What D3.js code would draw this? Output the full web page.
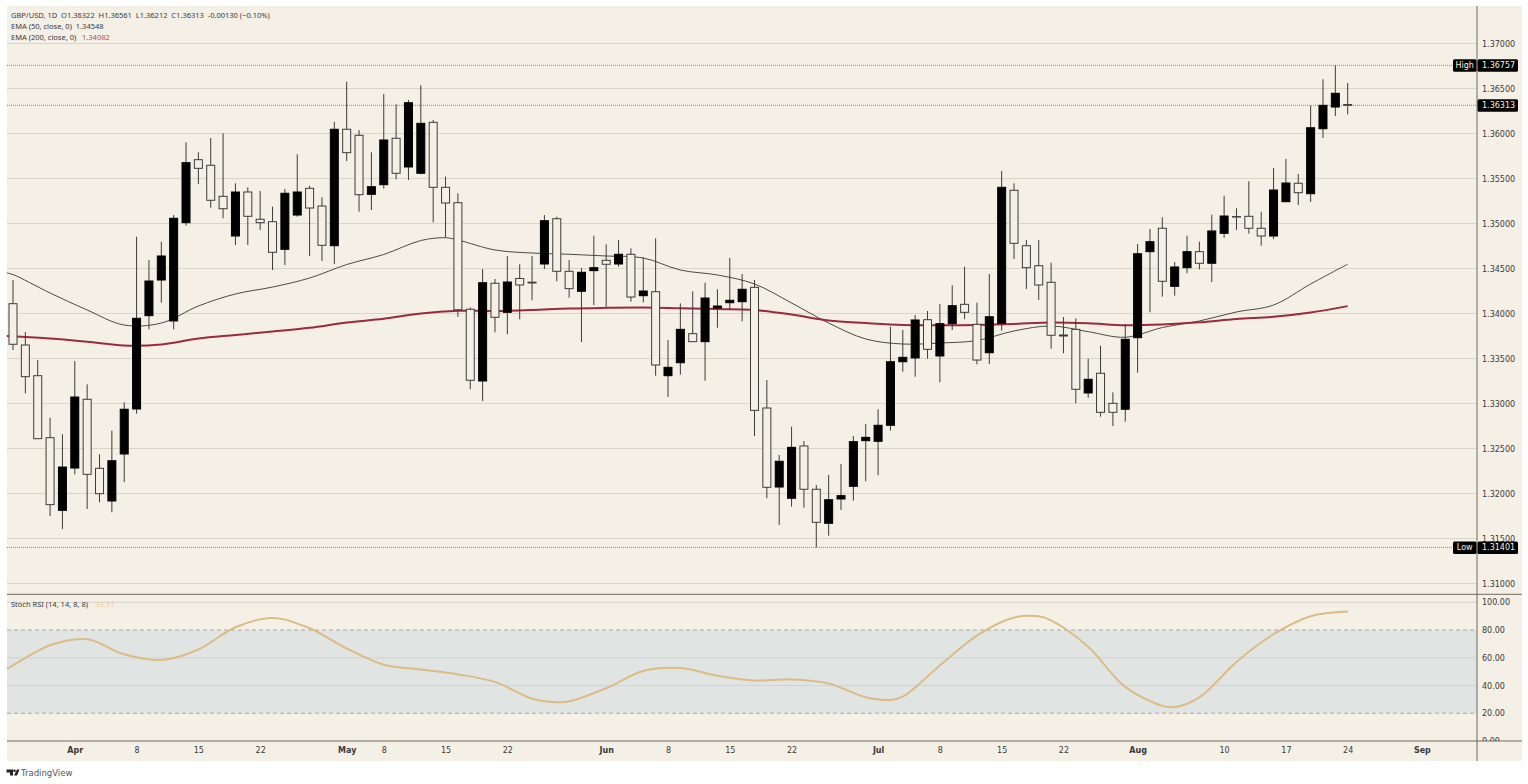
<!DOCTYPE html>
<html>
<head>
<meta charset="utf-8">
<title>GBP/USD, 1D</title>
<script src="https://cdn.jsdelivr.net/npm/d3@7"></script>
<style>
  html, body { margin: 0; padding: 0; background: #fff; }
  svg { display: block; }
  text { font-family: "DejaVu Sans", sans-serif; font-size: 8px; fill: #3a3a3a; }
  .legend text { font-family: "Noto Sans", sans-serif; font-size: 7.5px; }
</style>
</head>
<body>
<div id="chart"></div>
<script>
const opens = [
  1.34109, 1.33650, 1.33309, 1.32620, 1.31813, 1.32283, 1.33047, 1.32280, 1.31917, 1.32439,
  1.32939, 1.33976, 1.34372, 1.33917, 1.35009, 1.35709, 1.35647, 1.35302, 1.34861, 1.35350,
  1.35047, 1.35020, 1.34713, 1.35094, 1.35391, 1.35194, 1.34753, 1.36047, 1.35980, 1.35324,
  1.35431, 1.35947, 1.35628, 1.35558, 1.36124, 1.35402, 1.35231, 1.34047, 1.33250, 1.34336,
  1.34013, 1.34389, 1.34348, 1.34550, 1.35053, 1.34469, 1.34247, 1.34476, 1.34591, 1.34550,
  1.34658, 1.34198, 1.34242, 1.33309, 1.33453, 1.33776, 1.33687, 1.34061, 1.34120, 1.34131,
  1.34291, 1.32950, 1.32072, 1.31947, 1.32528, 1.32047, 1.31669, 1.31939, 1.32080, 1.32587,
  1.32580, 1.32758, 1.33464, 1.33506, 1.33931, 1.33528, 1.33887, 1.34102, 1.33880, 1.33564,
  1.33891, 1.35369, 1.34753, 1.34531, 1.34347, 1.33761, 1.33824, 1.33117, 1.33336, 1.33002,
  1.32936, 1.33731, 1.34687, 1.34947, 1.34302, 1.34509, 1.34687, 1.34558, 1.34891, 1.35077,
  1.35080, 1.34947, 1.34861, 1.35242, 1.35447, 1.35331, 1.36053, 1.36294, 1.36322
]
const highs = [
  1.34372, 1.33794, 1.33483, 1.32842, 1.32658, 1.33472, 1.33213, 1.32436, 1.32698, 1.33013,
  1.34853, 1.34594, 1.34798, 1.35094, 1.35902, 1.35791, 1.35950, 1.36002, 1.35447, 1.35402,
  1.35361, 1.35187, 1.35383, 1.35769, 1.35420, 1.35291, 1.36131, 1.36576, 1.36039, 1.35791,
  1.36439, 1.36324, 1.36372, 1.36536, 1.36150, 1.35520, 1.35336, 1.34069, 1.34494, 1.34383,
  1.34639, 1.34547, 1.34639, 1.35094, 1.35076, 1.34594, 1.34506, 1.34864, 1.34769, 1.34817,
  1.34724, 1.34624, 1.34836, 1.33706, 1.34113, 1.34247, 1.34342, 1.34269, 1.34617, 1.34439,
  1.34372, 1.33261, 1.32428, 1.32742, 1.32583, 1.32094, 1.32206, 1.32328, 1.32639, 1.32772,
  1.32936, 1.33853, 1.33817, 1.33983, 1.34028, 1.34106, 1.34313, 1.34520, 1.34120, 1.34439,
  1.35583, 1.35447, 1.34817, 1.34817, 1.34564, 1.33961, 1.33947, 1.33498, 1.33642, 1.33124,
  1.33880, 1.34772, 1.34939, 1.35069, 1.34572, 1.34864, 1.34798, 1.35098, 1.35309, 1.35169,
  1.35469, 1.35131, 1.35617, 1.35717, 1.35550, 1.36309, 1.36602, 1.36757, 1.36561
]
const lows = [
  1.33594, 1.33113, 1.32609, 1.31750, 1.31606, 1.32213, 1.31828, 1.31902, 1.31791, 1.32128,
  1.32887, 1.33824, 1.34120, 1.33824, 1.34976, 1.35439, 1.35176, 1.35058, 1.34761, 1.34761,
  1.34928, 1.34483, 1.34539, 1.35076, 1.34639, 1.34583, 1.34550, 1.35694, 1.35131, 1.35150,
  1.35387, 1.35491, 1.35483, 1.35547, 1.35013, 1.34847, 1.33964, 1.33158, 1.33028, 1.33791,
  1.33769, 1.33936, 1.34147, 1.34494, 1.34358, 1.34176, 1.33683, 1.34094, 1.34076, 1.34520,
  1.34131, 1.34124, 1.33309, 1.33072, 1.33320, 1.33687, 1.33253, 1.33842, 1.34039, 1.33913,
  1.32639, 1.31947, 1.31650, 1.31853, 1.31842, 1.31401, 1.31531, 1.31817, 1.31920, 1.32136,
  1.32202, 1.32698, 1.33353, 1.33298, 1.33498, 1.33236, 1.33817, 1.33936, 1.33436, 1.33439,
  1.33809, 1.34606, 1.34272, 1.34150, 1.33609, 1.33558, 1.33002, 1.33064, 1.32853, 1.32750,
  1.32798, 1.33342, 1.34013, 1.34187, 1.34198, 1.34447, 1.34491, 1.34350, 1.34842, 1.34928,
  1.34887, 1.34753, 1.34828, 1.35239, 1.35206, 1.35239, 1.35950, 1.36194, 1.36212
]
const closes = [
  1.33658, 1.33298, 1.32609, 1.31876, 1.32294, 1.33072, 1.32213, 1.31998, 1.32364, 1.32936,
  1.33947, 1.34361, 1.34639, 1.35058, 1.35676, 1.35613, 1.35258, 1.35164, 1.35350, 1.35080,
  1.35009, 1.34680, 1.35336, 1.35350, 1.35172, 1.34758, 1.36047, 1.35787, 1.35320, 1.35409,
  1.35928, 1.35558, 1.36342, 1.36113, 1.35402, 1.35228, 1.34042, 1.33258, 1.34342, 1.33958,
  1.34350, 1.34317, 1.34339, 1.35031, 1.34469, 1.34276, 1.34458, 1.34509, 1.34547, 1.34658,
  1.34183, 1.34250, 1.33428, 1.33402, 1.33824, 1.33687, 1.34172, 1.34083, 1.34147, 1.34269,
  1.32924, 1.32069, 1.32358, 1.32513, 1.32047, 1.31680, 1.31931, 1.31976, 1.32576, 1.32624,
  1.32758, 1.33464, 1.33513, 1.33928, 1.33602, 1.33887, 1.34087, 1.34013, 1.33483, 1.33964,
  1.35402, 1.34780, 1.34509, 1.34317, 1.33758, 1.33750, 1.33158, 1.33269, 1.32902, 1.32902,
  1.33713, 1.34664, 1.34798, 1.34358, 1.34517, 1.34687, 1.34558, 1.34917, 1.35083, 1.35072,
  1.34947, 1.34861, 1.35372, 1.35450, 1.35342, 1.36064, 1.36313, 1.36447, 1.36313
]

// the indicators every third bar
const ema50Bars = [-0.5, 0, 3, 6, 9, 12, 15, 18, 21, 24, 27, 30, 33, 35, 36, 39, 42, 45, 48, 51, 54, 57, 60, 63, 66, 69, 72, 75, 78, 81, 84, 87, 90, 93, 96, 99, 102, 105, 108]
const ema50Values = [
  1.34450, 1.34433, 1.34228, 1.34039, 1.33872, 1.33894, 1.34083, 1.34217, 1.34294, 1.34394,
  1.34544, 1.34656, 1.34811, 1.34842, 1.34817, 1.34706, 1.34672, 1.34658, 1.34639, 1.34617,
  1.34483, 1.34428, 1.34328, 1.34117, 1.33894, 1.33717, 1.33661, 1.33672, 1.33700, 1.33806,
  1.33861, 1.33798, 1.33736, 1.33844, 1.33917, 1.34017, 1.34094, 1.34328, 1.34548
]
const ema200Bars = [-0.5, 0, 3, 6, 9, 12, 15, 18, 21, 24, 27, 30, 33, 36, 39, 42, 45, 48, 51, 54, 57, 60, 63, 66, 69, 72, 75, 78, 81, 84, 87, 90, 93, 96, 99, 102, 105, 108]
const ema200Values = [
  1.33750, 1.33748, 1.33722, 1.33686, 1.33644, 1.33656, 1.33722, 1.33761, 1.33800, 1.33841,
  1.33900, 1.33941, 1.34000, 1.34030, 1.34028, 1.34039, 1.34056, 1.34063, 1.34066, 1.34058,
  1.34050, 1.34039, 1.33989, 1.33922, 1.33894, 1.33872, 1.33869, 1.33872, 1.33883, 1.33900,
  1.33891, 1.33869, 1.33878, 1.33902, 1.33939, 1.33963, 1.34011, 1.34082
]
const stochBars = [-0.5, 0, 3, 6, 9, 12, 15, 18, 21, 24, 27, 30, 33, 36, 39, 42, 44, 45, 48, 51, 54, 57, 60, 63, 66, 69, 71, 72, 75, 78, 81, 83, 84, 87, 90, 93, 94, 96, 99, 102, 105, 108]
const stochValues = [
  52, 54.5, 69, 73.3, 62.5, 58.4, 66, 82, 88.6, 81.3,
  66.7, 55, 51.6, 48, 42.6, 30.5, 28, 28.6, 38, 50.5,
  52.6, 47, 43.6, 44.4, 41.5, 31.5, 29.6, 32, 54.5, 76,
  89, 89.9, 87, 68, 39, 25.3, 24.5, 31.5, 57, 77,
  90, 93.31
]

const priceTicks = [1.31, 1.315, 1.32, 1.325, 1.33, 1.335, 1.34, 1.345, 1.35, 1.355, 1.36, 1.365, 1.37]
const stochTicks = [0, 20, 40, 60, 80, 100]
const timeBars = [5, 10, 15, 20, 27, 30, 35, 40, 48, 53, 58, 63, 70, 75, 80, 85, 91, 98, 103, 108, 114]
const timeLabels = ['Apr', '8', '15', '22', 'May', '8', '15', '22', 'Jun', '8', '15', '22', 'Jul', '8', '15', '22', 'Aug', '10', '17', '24', 'Sep']
const monthLabels = ['Apr', 'May', 'Jun', 'Jul', 'Aug', 'Sep']

const highPrice = 1.36757
const lowPrice = 1.31401
const lastPrice = 1.36313

const legendLines = [
  'GBP/USD, 1D  O1.36322  H1.36561  L1.36212  C1.36313  -0.00130 (−0.10%)',
  'EMA (50, close, 0)  1.34548',
  'EMA (200, close, 0)'
]

const dimentions = { width: 1528, height: 784 }
const pane = { left: 7, right: 1522, axis: 1477, top: 6, split: 594.3, bottom: 741, end: 761 }
const colors = { bg: '#f5f0e6', band: '#e0e5e4', grid: '#d9d6c9', line: '#6d6a60', candle: '#000', wick: '#3c3c3c', ema50: '#4a4a45', ema200: '#9c2a3c', stoch: '#dcbc84' }

const x = d3.scaleLinear().domain([0, 108]).range([13, 1347.7])
const y = d3.scaleLinear().domain([1.31, 1.37]).range([583.5, 43.5])
const yStoch = d3.scaleLinear().domain([0, 100]).range([741, 602.3])

const svg = d3.select('#chart')
  .append('svg')
  .attr('width', dimentions.width)
  .attr('height', dimentions.height)

svg.append('defs').append('clipPath')
  .attr('id', 'stochClip')
  .append('rect')
  .attr('x', pane.axis)
  .attr('y', pane.split)
  .attr('width', pane.right - pane.axis)
  .attr('height', pane.bottom - pane.split)

svg.append('rect')
  .attr('x', pane.left)
  .attr('y', pane.top)
  .attr('width', pane.right - pane.left)
  .attr('height', pane.end - pane.top)
  .attr('fill', colors.bg)

// stoch band first, the grid goes on top
svg.append('rect')
  .attr('x', pane.left)
  .attr('y', yStoch(80))
  .attr('width', pane.axis - pane.left)
  .attr('height', yStoch(20) - yStoch(80))
  .attr('fill', colors.band)

const gridLines = (ticks, scale, stroke) => svg.append('g')
  .selectAll('line')
  .data(ticks)
  .join('line')
  .attr('x1', pane.left)
  .attr('x2', pane.axis)
  .attr('y1', d => scale(d))
  .attr('y2', d => scale(d))
  .attr('stroke', stroke)

gridLines(priceTicks, y, colors.grid)
gridLines([100, 60, 40], yStoch, '#d3d3ca')

svg.append('g')
  .selectAll('line')
  .data([80, 20])
  .join('line')
  .attr('x1', pane.left)
  .attr('x2', pane.axis)
  .attr('y1', d => yStoch(d))
  .attr('y2', d => yStoch(d))
  .attr('stroke', '#a9a8a2')
  .attr('stroke-dasharray', '4 3')

svg.append('g')
  .selectAll('line')
  .data([highPrice, lastPrice, lowPrice])
  .join('line')
  .attr('x1', pane.left)
  .attr('x2', pane.axis)
  .attr('y1', d => y(d))
  .attr('y2', d => y(d))
  .attr('stroke', '#8a887e')
  .attr('stroke-dasharray', '1 1')

const indicatorLine = (bars, values, scale) => d3.line()
  .x((d, i) => x(bars[i]))
  .y(d => scale(d))
  .curve(d3.curveCatmullRom.alpha(0.5))(values)

svg.append('path')
  .attr('d', indicatorLine(ema50Bars, ema50Values, y))
  .attr('fill', 'none')
  .attr('stroke', colors.ema50)
  .attr('stroke-width', 1)

svg.append('path')
  .attr('d', indicatorLine(ema200Bars, ema200Values, y))
  .attr('fill', 'none')
  .attr('stroke', colors.ema200)
  .attr('stroke-width', 2)

svg.append('path')
  .attr('d', indicatorLine(stochBars, stochValues, yStoch))
  .attr('fill', 'none')
  .attr('stroke', colors.stoch)
  .attr('stroke-width', 2)

const candles = svg.append('g')
  .selectAll('g')
  .data(opens.map((open, i) => ({ i, open, high: highs[i], low: lows[i], close: closes[i] })))
  .join('g')

candles.append('line')
  .attr('x1', d => x(d.i))
  .attr('x2', d => x(d.i))
  .attr('y1', d => y(d.high))
  .attr('y2', d => y(d.low))
  .attr('stroke', colors.wick)

candles.append('rect')
  .attr('x', d => x(d.i) - 4)
  .attr('width', 8)
  .attr('y', d => y(Math.max(d.open, d.close)))
  .attr('height', d => Math.max(0.5, Math.abs(y(d.open) - y(d.close))))
  .attr('fill', d => d.close > d.open ? colors.candle : colors.bg)
  .attr('stroke', d => d.close > d.open ? colors.candle : '#3c3c3c')

// frame of the panes
svg.append('g')
  .selectAll('line')
  .data([pane.split, pane.bottom])
  .join('line')
  .attr('x1', pane.left)
  .attr('x2', pane.right)
  .attr('y1', d => d)
  .attr('y2', d => d)
  .attr('stroke', colors.line)

svg.append('line')
  .attr('x1', pane.axis)
  .attr('x2', pane.axis)
  .attr('y1', pane.top)
  .attr('y2', pane.end)
  .attr('stroke', colors.line)

const cleanAxis = g => {
  g.select('.domain').remove()
  g.selectAll('.tick line').remove()
  g.attr('font-family', null).attr('font-size', null)
}

svg.append('g')
  .attr('transform', `translate(${pane.axis},0)`)
  .call(d3.axisRight(y).tickValues(priceTicks).tickFormat(d3.format('.5f')).tickSize(0).tickPadding(5))
  .call(cleanAxis)

svg.append('g')
  .attr('clip-path', 'url(#stochClip)')
  .append('g')
  .attr('transform', `translate(${pane.axis},0)`)
  .call(d3.axisRight(yStoch).tickValues(stochTicks).tickFormat(d3.format('.2f')).tickSize(0).tickPadding(5))
  .call(cleanAxis)

svg.append('g')
  .attr('transform', `translate(0,${pane.bottom})`)
  .call(d3.axisBottom(x).tickValues(timeBars).tickFormat((d, i) => timeLabels[i]).tickSize(0).tickPadding(6))
  .call(cleanAxis)
  .selectAll('text')
  .style('font-weight', d => monthLabels.includes(timeLabels[timeBars.indexOf(d)]) ? 'bold' : 'normal')

// High, last and Low badges
const badges = [
  { value: highPrice, name: 'High' },
  { value: lastPrice },
  { value: lowPrice, name: 'Low' }
]

badges.forEach(b => {
  const cy = y(b.value)
  svg.append('rect')
    .attr('x', pane.axis + 0.5)
    .attr('y', cy - 6)
    .attr('width', 40.5)
    .attr('height', 12.5)
    .attr('rx', 1.5)
    .attr('fill', '#000')
  svg.append('text')
    .attr('x', pane.axis + 5)
    .attr('y', cy)
    .attr('dy', '0.35em')
    .style('fill', '#f5f0e6')
    .text(d3.format('.5f')(b.value))
  if (!b.name) return
  svg.append('rect')
    .attr('x', pane.axis - 24)
    .attr('y', cy - 6)
    .attr('width', 23.5)
    .attr('height', 12.5)
    .attr('rx', 1.5)
    .attr('fill', '#000')
  svg.append('text')
    .attr('x', pane.axis - 12.25)
    .attr('y', cy)
    .attr('dy', '0.35em')
    .attr('text-anchor', 'middle')
    .style('fill', '#f5f0e6')
    .text(b.name)
})

// legend
const legend = svg.append('g').attr('class', 'legend')

legendLines.forEach((line, i) => {
  legend.append('text')
    .attr('x', 11)
    .attr('y', 18 + i * 11.2)
    .attr('xml:space', 'preserve')
    .style('white-space', 'pre')
    .text(line)
})

legend.append('text')
  .attr('x', 82)
  .attr('y', 40.4)
  .style('fill', '#c2485a')
  .text('1.34082')

legend.append('text')
  .attr('x', 11)
  .attr('y', 607)
  .text('Stoch RSI (14, 14, 8, 8)')

legend.append('text')
  .attr('x', 95)
  .attr('y', 607)
  .style('fill', '#e6cd98')
  .text('93.31')

// footer mark
svg.append('path')
  .attr('d', 'M6.5 769.5h6.5v6h-3v-3h-3.5zM14.5 769.5a1.3 1.3 0 1 1 0 2.6a1.3 1.3 0 1 1 0-2.6zM17 769.5h2.5l-2.5 6h-3z')
  .attr('fill', '#222')

svg.append('text')
  .attr('x', 21)
  .attr('y', 776)
  .style('font-size', '8.5px')
  .style('fill', '#555')
  .text('TradingView')
</script>
</body>
</html>
